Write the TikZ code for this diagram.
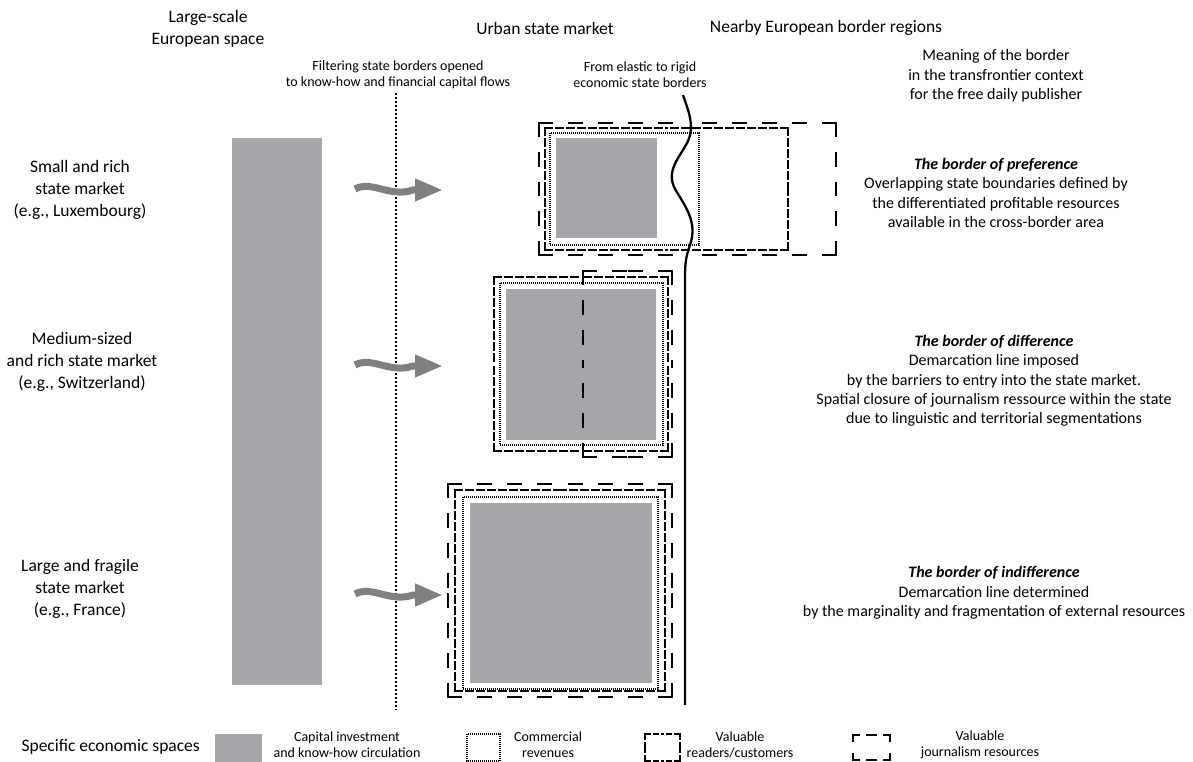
\documentclass[tikz,border=0pt]{standalone}
\usepackage{fontspec}
\setmainfont{Carlito}
\usetikzlibrary{arrows.meta,positioning}
\definecolor{capgray}{RGB}{166,166,170}
\definecolor{flowgray}{RGB}{128,128,128}
\tikzstyle{heading} = [align=center, font=\fontsize{17.5}{21.5}\selectfont]
\tikzstyle{market} = [align=center, font=\fontsize{17.5}{21.7}\selectfont]
\tikzstyle{meaning} = [align=center, font=\fontsize{16}{19.3}\selectfont]
\tikzstyle{note} = [align=center, font=\fontsize{14}{16}\selectfont]
\tikzstyle{capital} = [fill=capgray]
\tikzstyle{revenue} = [draw, line width=1.3pt, dash pattern=on 1pt off 1pt]
\tikzstyle{readers} = [draw, line width=1.6pt, line cap=rect, dash pattern=on 7pt off 4pt]
\tikzstyle{journal} = [draw, line width=2pt, line cap=rect, dash pattern=on 13pt off 17pt]
\tikzstyle{filter} = [draw, line width=2pt, dash pattern=on 2pt off 2pt]
\tikzstyle{border} = [draw, line width=2.3pt]
\tikzstyle{flow} = [draw=flowgray, line width=7pt, -{Triangle[length=28pt,width=21pt]}]
% each side drawn from both corners, so that every corner starts with a dash
\newcommand{\borderbox}[5]{%
  \draw[#1] (#2,#3) -- ({(#2+#4)/2},#3) (#4,#3) -- ({(#2+#4)/2},#3)
            (#4,#3) -- (#4,{(#3+#5)/2}) (#4,#5) -- (#4,{(#3+#5)/2})
            (#4,#5) -- ({(#2+#4)/2},#5) (#2,#5) -- ({(#2+#4)/2},#5)
            (#2,#5) -- (#2,{(#3+#5)/2}) (#2,#3) -- (#2,{(#3+#5)/2});
}
\begin{document}
\begin{tikzpicture}[x=1pt, y=-1pt]
    \useasboundingbox (0,0) rectangle (1193,762);
    % Headings
    \node [heading] (euro) at (208,29) {Large-scale\\European space};
    \node [heading] (urban) at (545,28) {Urban state market};
    \node [heading] (nearby) at (826,28) {Nearby European border regions};
    \node [note] (filtering) at (398,75) {Filtering state borders opened\\to know-how and financial capital flows};
    \node [note] (elastic) at (640,75) {From elastic to rigid\\economic state borders};
    \node [meaning] (meaning) at (996,76) {Meaning of the border\\in the transfrontier context\\for the free daily publisher};
    % Markets
    \node [market] (small) at (80,190) {Small and rich\\state market\\(e.g., Luxembourg)};
    \node [market] (medium) at (82,362) {Medium-sized\\and rich state market\\(e.g., Switzerland)};
    \node [market] (large) at (80,589) {Large and fragile\\state market\\(e.g., France)};
    % Meanings of the border
    \node [meaning] (preference) at (996,193)
    {
      \textbf{\textit{The border of preference}}\\
      Overlapping state boundaries defined by\\
      the differentiated profitable resources\\
      available in the cross-border area
    };
    \node [meaning] (difference) at (994,381)
    {
      \textbf{\textit{The border of difference}}\\
      Demarcation line imposed\\
      by the barriers to entry into the state market.\\
      Spatial closure of journalism ressource within the state\\
      due to linguistic and territorial segmentations
    };
    \node [meaning] (indifference) at (994,593)
    {
      \textbf{\textit{The border of indifference}}\\
      Demarcation line determined\\
      by the marginality and fragmentation of external resources
    };
    % European space
    \fill [capital] (232,138) rectangle (322,685);
    % Small market
    \fill [capital] (556,138) rectangle (657,238);
    \draw [revenue] (550,133) rectangle (699,245);
    \borderbox{readers}{545}{128}{788}{250}
    \borderbox{journal}{539}{123}{836}{255}
    % Medium market
    \fill [capital] (506,289) rectangle (656,440);
    \draw [revenue] (500,283) rectangle (663,445);
    \borderbox{readers}{494}{277}{668}{451}
    \borderbox{journal}{583}{271}{672}{457}
    % Large market
    \fill [capital] (470,503) rectangle (652,683);
    \draw [revenue] (463,497) rectangle (658,689);
    \borderbox{readers}{455}{490}{665}{691}
    \borderbox{journal}{448}{484}{672}{697}
    % Borders
    \coordinate (ftop) at (396,93);
    \coordinate (fbot) at (396,710);
    \path [filter] (ftop) -- (fbot);
    \coordinate (btop) at (683,95);
    \coordinate (bbot) at (685,705);
    \path [border] (btop) .. controls (688,110) and (695,125) .. (688,141)
        .. controls (681,156) and (665,170) .. (675,189)
        .. controls (685,206) and (698,222) .. (690,245)
        .. controls (686,256) and (685,264) .. (685,276) -- (bbot);
    % Flows
    \foreach \y/\name in {189/f1, 365/f2, 594/f3} {
      \coordinate (\name s) at (355,\y);
      \coordinate (\name m) at (413,\y+1);
      \coordinate (\name e) at (443,\y+1);
      \path [flow] (\name s) .. controls +(17,-9) and +(-23,8) .. (\name m) -- (\name e);
    }
    % Legend
    \node [heading, anchor=west] (specific) at (18,747) {Specific economic spaces};
    \fill [capital] (215,734) rectangle (262,762);
    \node [note] (capleg) at (347,745) {Capital investment\\and know-how circulation};
    \draw [revenue] (467,734) rectangle (500,761);
    \node [note] (revleg) at (548,745) {Commercial\\revenues};
    \borderbox{readers, dash pattern=on 5pt off 3.5pt}{645}{734}{680}{761}
    \node [note] (readleg) at (740,745) {Valuable\\readers/customers};
    \borderbox{journal, dash pattern=on 6pt off 8pt}{853}{735}{890}{760}
    \node [note] (journleg) at (980,745) {Valuable\\journalism resources};
\end{tikzpicture}
\end{document}
